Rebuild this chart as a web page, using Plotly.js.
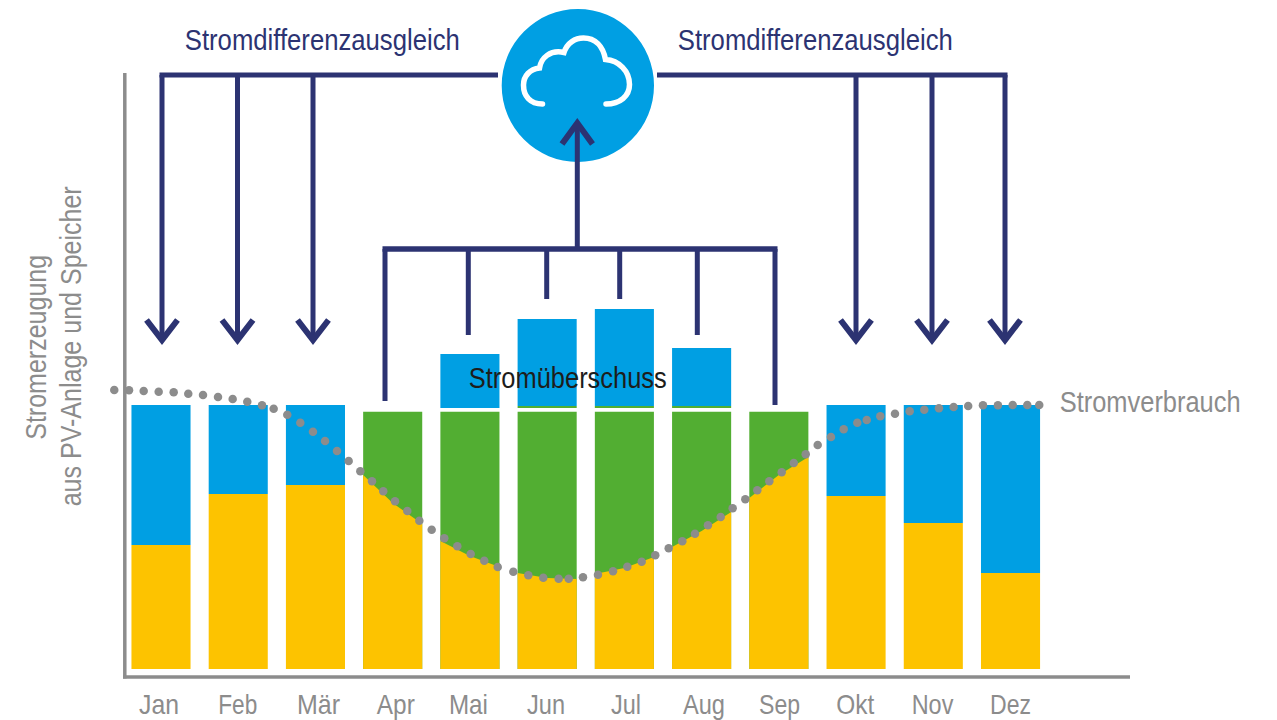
<!DOCTYPE html>
<html>
<head>
<meta charset="utf-8">
<script src="https://cdn.plot.ly/plotly-3.0.1.min.js"></script>
<style>html,body{margin:0;padding:0;background:#fff;overflow:hidden}</style>
</head>
<body>
<div id="chart" style="width:1277px;height:720px"></div>
<script>
const months = ["Jan","Feb","Mär","Apr","Mai","Jun","Jul","Aug","Sep","Okt","Nov","Dez"];
const tickPos = [-0.026,0.994,2.04,3.04,3.98,4.985,6.02,7.03,8.01,8.99,9.99,11];
const tickWidths = [40,39,43,38,39,38,30,42,41,38,41.7,41];

// winter / autumn months: own generation plus balance from the cloud
const winterMonths = [0,1,2,9,10,11];
const winterGeneration = [124,175,184,173,146,96];
const winterBalanceTop = [264,264,264,264,264,264];

// summer months: consumption covered by own generation, the rest is surplus
const summerMonths = [3,4,5,6,7,8];
const summerGreenTop = [257.3,257.3,257.3,257.3,257.3,257.3];

// surplus bars above the gap
const surplusMonths = [4,5,6,7];
const surplusBase = [261,263,263,263];
const surplusTop = [315,350,360,321];
const surplusEdgeMonths = [5,6,7];
const surplusEdgeBase = [261,261,261];
const surplusEdgeTop = [263,263,263];

// generation edge inside the summer bars: left, middle, right of each bar
const summerGenerationEdge = [
  [194,166,145],
  [128,113,102],
  [96,91,90],
  [95,101,112],
  [122,138,157],
  [171,194,212]
];

// Stromverbrauch dotted curve
const curveX = [-0.605,-0.414,-0.224,-0.03,0.164,0.353,0.544,0.738,0.928,1.117,1.308,1.459,1.635,1.804,1.968,2.124,2.279,2.43,2.581,2.732,2.878,3.03,3.189,3.345,3.505,3.668,3.837,4.01,4.186,4.36,4.562,4.756,4.95,5.149,5.279,5.464,5.658,5.853,6.038,6.224,6.4,6.574,6.75,6.914,7.082,7.247,7.402,7.566,7.721,7.877,8.037,8.193,8.348,8.503,8.675,8.84,9.016,9.138,9.314,9.504,9.694,9.883,10.073,10.263,10.452,10.643,10.837,11.028,11.217,11.372];
const curveY = [279,278.7,278,277.3,276.7,275.3,274,272,270,267.3,263.7,260.3,254.3,246.3,237.3,228,218,208,197.7,187.7,177.7,167.7,158,148.3,139.3,130.7,122.7,115,108.3,102,97.3,93.7,91.3,90.3,90.3,91.7,94.3,97.7,102.3,107.3,113.7,120.7,127.7,135.3,143.7,152,160.7,169.7,178.7,187.7,196.7,206,214.7,224,232,239.7,246.3,249,252.7,255.3,257.7,259.3,260.7,262,263,263.7,263.7,264,264,264];

const YELLOW="#fdc300", BLUE="#009fe3", GREEN="#52ae32", NAVY="#2c3372", GRAY="#8c8c8c";
const FONT="'Liberation Sans',sans-serif";
const barW = 0.765;

const traces = [];
function bars(x, base, top, color){
  traces.push({type:"bar", x:x, base:base, y:top.map((t,i)=>t-(base[i]||0)), width:barW,
    marker:{color:color,line:{width:0}}, hoverinfo:"skip", showlegend:false});
}
bars(winterMonths, winterMonths.map(()=>0), winterGeneration, YELLOW);
bars(winterMonths, winterGeneration, winterBalanceTop, BLUE);
bars(summerMonths, summerMonths.map(()=>0), summerGreenTop, GREEN);
bars(surplusMonths, surplusBase, surplusTop, BLUE);
bars(surplusEdgeMonths, surplusEdgeBase, surplusEdgeTop, GREEN);

summerMonths.forEach((m,i)=>{
  traces.push({type:"scatter", mode:"lines", x:[m-barW/2,m,m+barW/2], y:summerGenerationEdge[i],
    line:{width:0,color:YELLOW}, fill:"tozeroy", fillcolor:YELLOW, hoverinfo:"skip", showlegend:false});
});
traces.push({type:"scatter", mode:"markers", x:curveX, y:curveY, cliponaxis:false,
  marker:{size:8.5,color:GRAY,line:{width:0}}, hoverinfo:"skip", showlegend:false});

// page-pixel helpers for the diagram connectors
const L=105,R=1129,T=73,B=677;
const px=x=>(x-L)/(R-L), py=y=>(B-y)/(B-T);
function seg(x0,y0,x1,y1,w,color){return {type:"line",xref:"paper",yref:"paper",x0:px(x0),y0:py(y0),x1:px(x1),y1:py(y1),line:{color:color||NAVY,width:w||5}};}
function poly(points,color,w){
  return {type:"path",xref:"paper",yref:"paper",
    path:points.map((p,i)=>(i?"L":"M")+px(p[0])+","+py(p[1])).join(" "),
    line:{color:color,width:w||5}};
}
function downArrow(x,y0){
  return [seg(x,y0,x,338,5), poly([[x-15.5,320],[x,340],[x+15.5,320]],NAVY,6)];
}
const shapes=[];
shapes.push(seg(124.8,73,124.8,678.5,3.5,GRAY));
shapes.push(seg(123,677,1130,677,3.5,GRAY));
shapes.push({type:"circle",xref:"paper",yref:"paper",x0:px(501.7),x1:px(654),y0:py(162),y1:py(9),fillcolor:BLUE,line:{width:0},layer:"above"});
shapes.push(seg(159.5,75,498,75));
shapes.push(seg(657,75,1007.5,75));
[162,237.5,313,856,932,1005].forEach(x=>shapes.push(...downArrow(x,75)));
shapes.push(seg(382.5,249,777.5,249,5.5));
[[385,401],[468.3,335],[546.7,299],[619.7,299],[697.3,335],[775,405]].forEach(v=>shapes.push(seg(v[0],249,v[0],v[1],5)));
shapes.push(seg(577.3,249,577.3,126,5));
shapes.push(poly([[562,144],[577.3,123],[592.5,144]],NAVY,6));

// cloud outline
const P=(x,y)=>px(x)+","+py(y);
shapes.push({type:"path",xref:"paper",yref:"paper",line:{color:"#ffffff",width:5.5},
  path:"M"+P(542.5,104)+" C"+P(530,104)+" "+P(523.5,96)+" "+P(523.5,85)+
       " C"+P(523.5,76)+" "+P(530,69)+" "+P(539.5,68)+
       " C"+P(541,58)+" "+P(550,49.5)+" "+P(564,52.5)+
       " C"+P(567,43)+" "+P(575,38)+" "+P(583.5,38)+
       " C"+P(595,38)+" "+P(603,46)+" "+P(605.5,59.5)+
       " C"+P(619,60.5)+" "+P(629.5,71)+" "+P(629.5,84.5)+
       " C"+P(629.5,96)+" "+P(620,104)+" "+P(606,104)});

function label(text,x,y,size,color,angle){
  return {text:text,xref:"paper",yref:"paper",x:px(x),y:py(y),showarrow:false,xanchor:"center",yanchor:"middle",
    textangle:angle||0,font:{family:FONT,size:size,color:color}};
}
const textWidths={
  "Stromdifferenzausgleich":275,
  "Stromüberschuss":198,
  "Stromverbrauch":181,
  "Stromerzeugung":185,
  "aus PV-Anlage und Speicher":320
};
months.forEach((m,i)=>{textWidths[m]=tickWidths[i];});

const annotations=[
  label("Stromdifferenzausgleich",322.5,40,29,NAVY),
  label("Stromdifferenzausgleich",815.5,40,29,NAVY),
  label("Stromüberschuss",568.3,378,29,"#1d1d1b"),
  label("Stromverbrauch",1150.3,402,29,GRAY),
  label("Stromerzeugung",35,347.5,29,GRAY,-90),
  label("aus PV-Anlage und Speicher",71,346.7,29,GRAY,-90),
];

const layout={
  width:1277,height:720,
  margin:{l:L,r:1277-R,t:T,b:720-B,pad:0},
  paper_bgcolor:"#fff",plot_bgcolor:"#fff",
  barmode:"overlay",
  showlegend:false,
  xaxis:{type:"linear",range:[(L-161)/77.23,(R-161)/77.23],tickmode:"array",tickvals:tickPos,ticktext:months,ticks:"",
    ticklabelstandoff:8,
    showgrid:false,zeroline:false,showline:false,
    tickfont:{family:FONT,size:28,color:GRAY},fixedrange:true},
  yaxis:{range:[-8,596],showgrid:false,zeroline:false,showline:false,
    showticklabels:false,ticks:"",fixedrange:true},
  shapes:shapes,
  annotations:annotations
};
function condense(gd){
  gd.querySelectorAll("svg text").forEach(t=>{
    const w=textWidths[t.textContent.trim()];
    if(w){t.setAttribute("textLength",w);t.setAttribute("lengthAdjust","spacingAndGlyphs");}
  });
  gd.querySelectorAll(".shapelayer path").forEach(p=>{
    if((p.style.stroke||"").replace(/\s/g,"")==="rgb(255,255,255)") p.style.strokeLinecap="round";
  });
}
Plotly.newPlot("chart",traces,layout,{displayModeBar:false,staticPlot:true}).then(condense);
</script>
</body>
</html>
